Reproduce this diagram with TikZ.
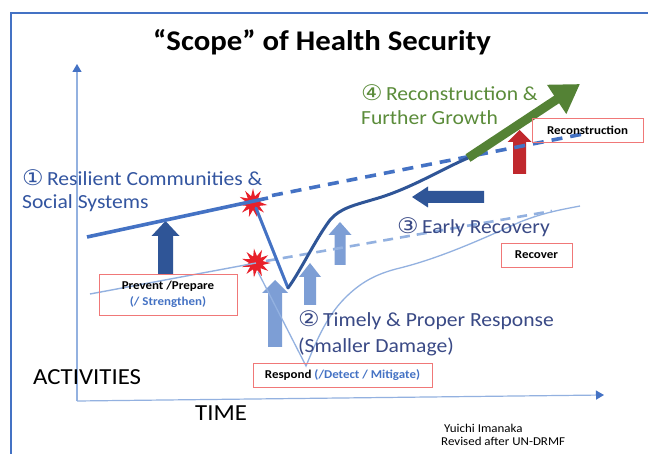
\documentclass[tikz,border=0pt]{standalone}
\usepackage{fontspec}
\setmainfont{Carlito}[FakeStretch=1.08]
\newfontfamily\symfont{DejaVu Sans}[FakeStretch=1.12]
\usetikzlibrary{arrows.meta,shapes.geometric}
\definecolor{medblue}{HTML}{4472C4}
\definecolor{darkblue}{HTML}{2F5597}
\definecolor{lightfill}{HTML}{7D9ED5}
\definecolor{thinblue}{HTML}{93B1E0}
\definecolor{txtone}{HTML}{3355A0}
\definecolor{txttwo}{HTML}{3A4A86}
\definecolor{txtgreen}{HTML}{5B8C3A}
\definecolor{arrgreen}{HTML}{548235}
\definecolor{arrred}{HTML}{C0282D}
\definecolor{boxred}{HTML}{F07878}
\definecolor{burst}{HTML}{E8202A}
\newcommand\blockup[7]{%
  \fill[#1] (#2-#5,#3) -- (#2-#5,#7) -- (#2-#6,#7) -- (#2,#4) -- (#2+#6,#7) -- (#2+#5,#7) -- (#2+#5,#3) -- cycle;}
\newcommand\circnum[1]{{\symfont\fontsize{21.5}{24}\selectfont #1}}
\tikzset{
  label/.style={anchor=west, inner sep=0pt, font=\fontsize{20}{25}\selectfont},
  actbox/.style={draw=boxred, line width=0.9pt, inner sep=0pt, font=\bfseries\fontsize{12}{15}\selectfont, align=center},
  burststar/.style={star, star points=11, star point ratio=2.1, fill=burst, inner sep=0pt, minimum size=29pt},
  axisline/.style={draw=thinblue, line width=1.2pt, -{Triangle[length=8pt,width=9pt,color=medblue]}},
}
\begin{document}
\begin{tikzpicture}[x=1pt,y=-1pt]
\useasboundingbox (0,0) rectangle (648,454);
\fill[white] (0,0) rectangle (648,454);
% frame
\draw[medblue, line width=2.2pt] (11,456) -- (11,13) -- (650,13);
% title
\node[font=\bfseries\fontsize{28.5}{33}\selectfont] (title) at (322,42) {“Scope” of Health Security};
% axes
\coordinate (origin) at (77,401);
\coordinate (ytip) at (77,64);
\coordinate (xtip) at (604,395);
\draw[axisline] (origin) -- (ytip);
\draw[axisline] (origin) -- (xtip);
\node[anchor=west, inner sep=0pt, font=\fontsize{23}{27}\selectfont] (act) at (33,377) {ACTIVITIES};
\node[anchor=west, inner sep=0pt, font=\fontsize{23}{27}\selectfont] (time) at (195,413) {TIME};
\node[anchor=west, inner sep=0pt, font=\fontsize{12}{14}\selectfont, align=left] (auth) at (441,435) {\ Yuichi Imanaka\\[-1pt]Revised after UN-DRMF};
% block arrows
\blockup{darkblue}{165.5}{275}{221}{7.5}{14}{236}
\blockup{lightfill}{275}{347}{280}{7}{13}{293}
\blockup{lightfill}{310}{305}{263}{6}{11}{277}
\blockup{lightfill}{340}{265}{222}{5.5}{11.5}{235}
\blockup{arrred}{519.5}{174}{130}{6.5}{12}{142}
\fill[darkblue] (484,191) -- (428,191) -- (428,186.5) -- (412,197) -- (428,207.5) -- (428,203) -- (484,203) -- cycle;
% bursts
\node[burststar] (s1) at (253,203) {};
\node[burststar, rotate=8] (s2) at (256,263) {};
% lower (light) trajectory
\draw[thinblue, line width=1.4pt] (90,294) -- (s2.center);
\draw[thinblue, line width=1.3pt] (258,272) -- (306,366)
  .. controls (315,345) and (325,318) .. (345,298)
  .. controls (360,283) and (375,274) .. (400,268)
  .. controls (440,258) and (480,240) .. (520,222)
  .. controls (545,212) and (565,209) .. (580,206);
\draw[thinblue, line width=2.6pt, dash pattern=on 10pt off 7pt] (266,261) -- (552,211);
% upper trajectory
\draw[medblue, line width=3.6pt] (87,237) -- (268,198);
\draw[medblue, line width=3.6pt, dash pattern=on 11pt off 8pt] (272,195.5) -- (588,133);
\draw[medblue, line width=3pt, line cap=round] (256,208) -- (288,288);
\draw[darkblue, line width=3pt, line cap=round] (288,288)
  .. controls (300,272) and (315,240) .. (330,220)
  .. controls (340,208) and (355,205) .. (375,199)
  .. controls (410,189) and (440,170) .. (468,158);
\draw[arrgreen, line width=9pt, -{Triangle[length=28pt,width=33pt]}] (468,158) -- (580,84);
% labels
\node[label, text=txtone] (l1) at (22,178) {\circnum{①}\,Resilient Communities \&};
\node[label, text=txtone] (l1b) at (22,203) {Social Systems};
\node[label, text=txttwo] (l2) at (298,320) {\circnum{②}\,Timely \& Proper Response};
\node[label, text=txttwo] (l2b) at (298,347) {(Smaller Damage)};
\node[label, text=txttwo] (l3) at (397,227) {\circnum{③}\,Early Recovery};
\node[label, text=txtgreen] (l4) at (361,93) {\circnum{④}\,Reconstruction \&};
\node[label, text=txtgreen] (l4b) at (361,118) {Further Growth};
% boxes
\node[actbox, minimum width=138pt, minimum height=41pt] (prev) at (168,294.5) {Prevent /Prepare\\[1pt]\textcolor{medblue}{(/ Strengthen)}};
\node[actbox, minimum width=179pt, minimum height=24pt] (resp) at (342.5,375) {Respond \textcolor{medblue}{(/Detect / Mitigate)}};
\node[actbox, minimum width=71pt, minimum height=24pt] (recov) at (536.5,255) {Recover};
\node[actbox, minimum width=111pt, minimum height=24pt] (recon) at (587.5,130) {Reconstruction};
\end{tikzpicture}
\end{document}
